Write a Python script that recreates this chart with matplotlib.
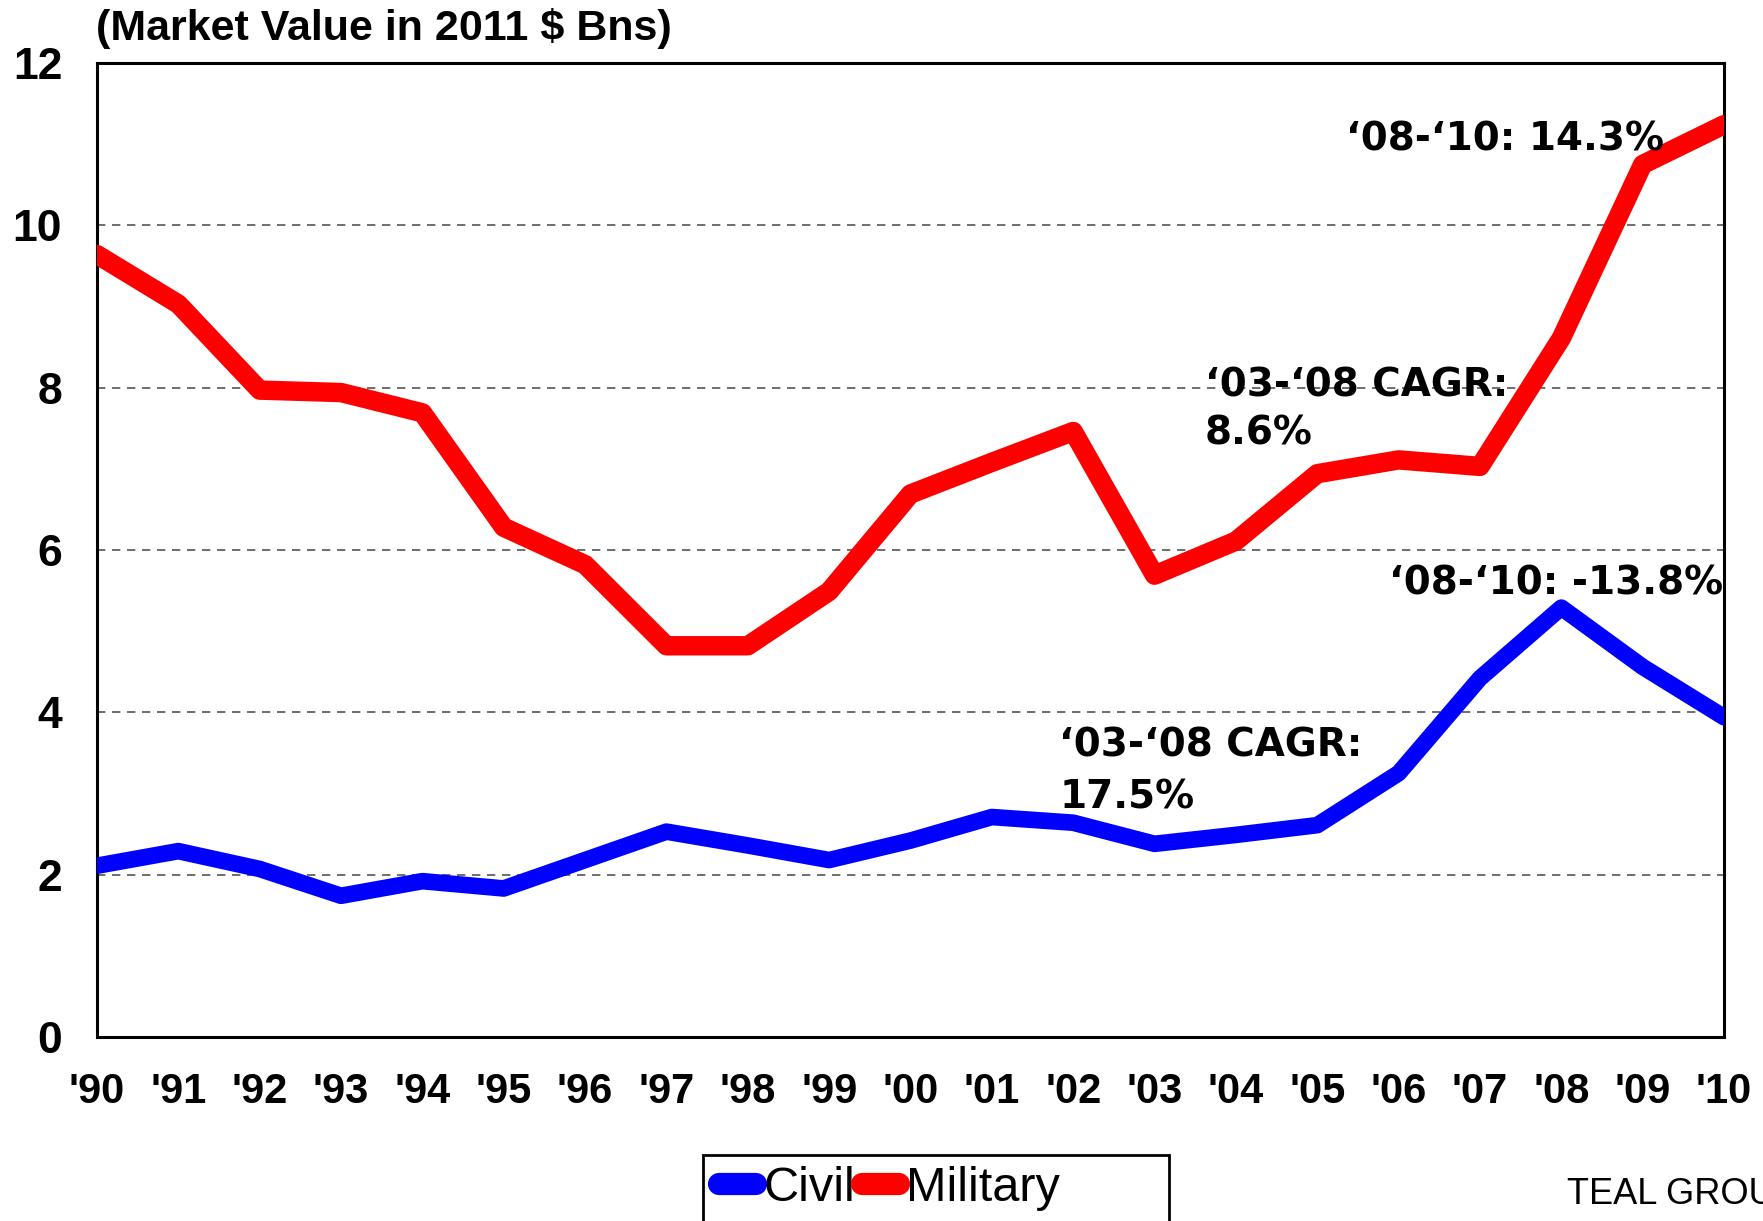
'''
Civil vs military market value, 1990-2010
'''
import matplotlib.pyplot as plt
from matplotlib.patches import Rectangle

years = ["'90", "'91", "'92", "'93", "'94", "'95", "'96", "'97", "'98", "'99", "'00",
         "'01", "'02", "'03", "'04", "'05", "'06", "'07", "'08", "'09", "'10"]
civil = [2.11, 2.29, 2.07, 1.74, 1.92, 1.83, 2.18, 2.53, 2.36, 2.18, 2.42,
         2.71, 2.64, 2.38, 2.49, 2.61, 3.25, 4.42, 5.29, 4.56, 3.94]
military = [9.64, 9.03, 7.97, 7.94, 7.69, 6.28, 5.82, 4.82, 4.82, 5.49, 6.69,
            7.08, 7.46, 5.69, 6.11, 6.94, 7.11, 7.03, 8.61, 10.75, 11.24]
y_ticks = [0, 2, 4, 6, 8, 10, 12]

plt.rcParams['font.family'] = ['Liberation Sans', 'DejaVu Sans']

fig = plt.figure(figsize=(17.63, 12.21), dpi=100)
ax = fig.add_axes([0.055, 0.1507, 0.9229, 0.7977])

x = list(range(len(years)))
ax.plot(x, civil, color='#0000ff', linewidth=12, solid_capstyle='round', label='Civil', zorder=3)
ax.plot(x, military, color='#ff0000', linewidth=14, solid_capstyle='round', label='Military', zorder=3)

ax.set_xlim(0, len(years) - 1)
ax.set_ylim(0, 12)
ax.set_xticks(x)
ax.set_xticklabels(years)
ax.set_yticks(y_ticks)
ax.tick_params(axis='x', length=0, labelsize=30, pad=25)
ax.tick_params(axis='y', length=0, labelsize=32, pad=25)
for lab in ax.get_xticklabels() + ax.get_yticklabels():
    lab.set_fontweight('bold')

for g in y_ticks[1:-1]:
    ax.axhline(g, color='#555555', linewidth=1.2, linestyle=(0, (5, 4)), zorder=1)
for s in ax.spines.values():
    s.set_linewidth(2.2)

# title
fig.text(0.0545, 0.977, '(Market Value in 2011 $ Bns)', fontsize=31, fontweight='bold',
         ha='left', va='center')

# growth notes
note = dict(fontsize=28, fontweight='bold', family='DejaVu Sans', ha='left', va='center')
ax.text(15.35, 11.06, '\u201808-\u201810: 14.3%', **note)
ax.text(13.62, 8.03, '\u201803-\u201808 CAGR:', **note)
ax.text(13.62, 7.43, '8.6%', **note)
ax.text(15.88, 5.59, '\u201808-\u201810: -13.8%', **note)
ax.text(11.83, 3.59, '\u201803-\u201808 CAGR:', **note)
ax.text(11.83, 2.95, '17.5%', **note)

# legend box is wider than its entries, so draw the frame separately
fig.patches.append(Rectangle((0.3988, -0.05), 0.2643, 0.104, transform=fig.transFigure,
                             fill=False, edgecolor='black', linewidth=2))
leg = fig.legend(loc='center left', bbox_to_anchor=(0.408, 0.027), ncol=2,
                 frameon=False, handlelength=0.75, handletextpad=0.15, columnspacing=0.15,
                 borderpad=0, borderaxespad=0, prop={'size': 35})
for h in leg.get_lines():
    h.set_linewidth(16)
    h.set_solid_capstyle('round')

fig.text(0.889, 0.022, 'TEAL GROUP', fontsize=26, ha='left', va='center')

fig.savefig('out.png', dpi=100)
